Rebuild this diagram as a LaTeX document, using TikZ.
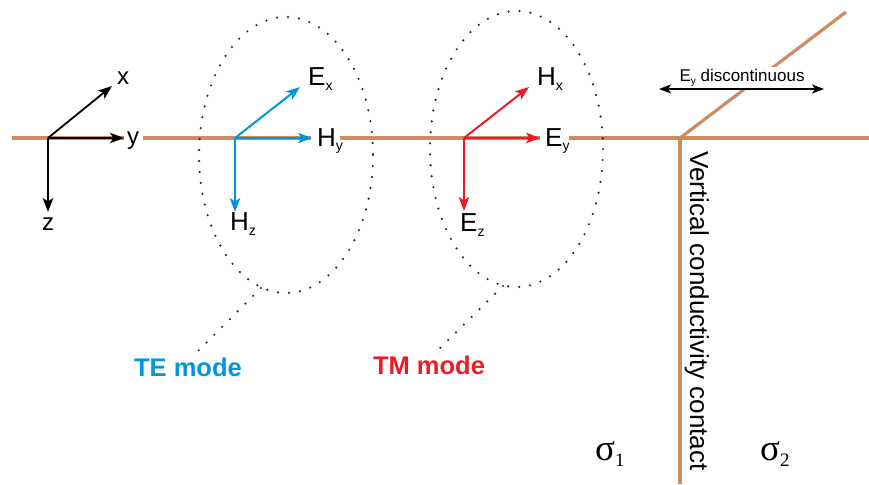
\documentclass[tikz,border=0pt]{standalone}
\usepackage{fontspec}
\setmainfont{Liberation Sans}
\newfontfamily\sigfont{Liberation Serif}
\usetikzlibrary{arrows.meta}
\definecolor{brn}{RGB}{206,141,96}
\definecolor{teblue}{RGB}{0,150,219}
\definecolor{tmred}{RGB}{237,28,36}
\newcommand\lsub[1]{\raisebox{-5pt}{\fontsize{14}{14}\selectfont #1}}
\newcommand\ssub[1]{\raisebox{-3pt}{\fontsize{10}{10}\selectfont #1}}
\newcommand\sigsub[1]{\raisebox{-6pt}{\fontsize{19}{19}\selectfont #1}}
\tikzset{
  brownline/.style={draw=brn, line width=3.2pt},
  tip/.style={-{Stealth[length=14pt,width=10.5pt,inset=3.5pt]}},
  axisarrow/.style={draw=black, line width=1.8pt, tip},
  tearrow/.style={draw=teblue, line width=2pt, tip},
  tmarrow/.style={draw=tmred, line width=2pt, tip},
  dotline/.style={draw=black!85, line width=2.4pt, line cap=round, dash pattern=on 0pt off 11pt},
  lbl/.style={inner sep=0pt, anchor=base west, font=\fontsize{26}{26}\selectfont},
  axlbl/.style={inner sep=0pt, anchor=base west, font=\fontsize{24}{24}\selectfont},
  modelbl/.style={inner sep=0pt, anchor=base, font=\fontsize{25.5}{25.5}\selectfont\bfseries},
  siglbl/.style={inner sep=0pt, anchor=base west, font=\sigfont\fontsize{37}{37}\selectfont}
}
\begin{document}
\begin{tikzpicture}[x=1pt,y=-1pt]
\useasboundingbox (0,0) rectangle (869,484);

% earth surface and contact
\draw[brownline] (12,138) -- (124,138);
\draw[brownline] (143,138) -- (311,138);
\draw[brownline] (340,138) -- (540,138);
\draw[brownline] (569,138) -- (869,138);
\coordinate (junc) at (680,138);
\coordinate (diagend) at (846,12);
\coordinate (vbottom) at (680,484);
\draw[brownline] (junc) -- (diagend);
\draw[brownline] (junc) -- (vbottom);

% Ey discontinuous
\node[inner sep=2.5pt, fill=white, anchor=base, font=\fontsize{17}{17}\selectfont] (disc) at (742,82) {E\ssub{y} discontinuous};
\coordinate (dl) at (659,89);
\coordinate (dr) at (824,89);
\draw[draw=black, line width=1.5pt, {Stealth[length=12pt,width=9pt,inset=3pt]}-{Stealth[length=12pt,width=9pt,inset=3pt]}] (dl) -- (dr);

% axes
\coordinate (o) at (48,138);
\coordinate (ox) at (112,86);
\coordinate (oy) at (124,138);
\coordinate (oz) at (48,212);
\draw[axisarrow] (o) -- (ox);
\draw[axisarrow] (o) -- (oy);
\draw[axisarrow] (o) -- (oz);
\node[axlbl] (lx) at (117,85) {x};
\node[axlbl] (ly) at (127,144) {y};
\node[axlbl] (lz) at (42,230) {z};

% TE mode
\coordinate (te) at (235,138);
\coordinate (teEx) at (300,87);
\coordinate (teHy) at (312,138);
\coordinate (teHz) at (235,212);
\draw[tearrow] (te) -- (teEx);
\draw[tearrow] (te) -- (teHy);
\draw[tearrow] (te) -- (teHz);
\node[lbl] (lEx) at (308,86) {E\lsub{x}};
\node[lbl] (lHy) at (317,146) {H\lsub{y}};
\node[lbl] (lHz) at (230,230) {H\lsub{z}};
\draw[dotline] (286,155) ellipse [x radius=87, y radius=138];
\coordinate (tej) at (261,288);
\coordinate (tee) at (193,356);
\draw[dotline] (tej) -- (tee);
\node[modelbl, text=teblue] (temode) at (188,376) {TE mode};

% TM mode
\coordinate (tm) at (464,138);
\coordinate (tmHx) at (529,87);
\coordinate (tmEy) at (540,138);
\coordinate (tmEz) at (464,211);
\draw[tmarrow] (tm) -- (tmHx);
\draw[tmarrow] (tm) -- (tmEy);
\draw[tmarrow] (tm) -- (tmEz);
\node[lbl] (lHx) at (537,86) {H\lsub{x}};
\node[lbl] (lEy) at (545,146) {E\lsub{y}};
\node[lbl] (lEz) at (460,231) {E\lsub{z}};
\draw[dotline] (516.5,149) ellipse [x radius=86.5, y radius=138];
\coordinate (tmj) at (503,286);
\coordinate (tme) at (434,354);
\draw[dotline] (tmj) -- (tme);
\node[modelbl, text=tmred] (tmmode) at (429,374) {TM mode};

% contact label and conductivities
\node[inner sep=0pt, anchor=base, rotate=-90, font=\fontsize{26}{26}\selectfont] (vcc) at (690,311) {Vertical conductivity contact};
\node[siglbl] (s1) at (595,460) {σ\sigsub{1}};
\node[siglbl] (s2) at (760,460) {σ\sigsub{2}};
\end{tikzpicture}
\end{document}
